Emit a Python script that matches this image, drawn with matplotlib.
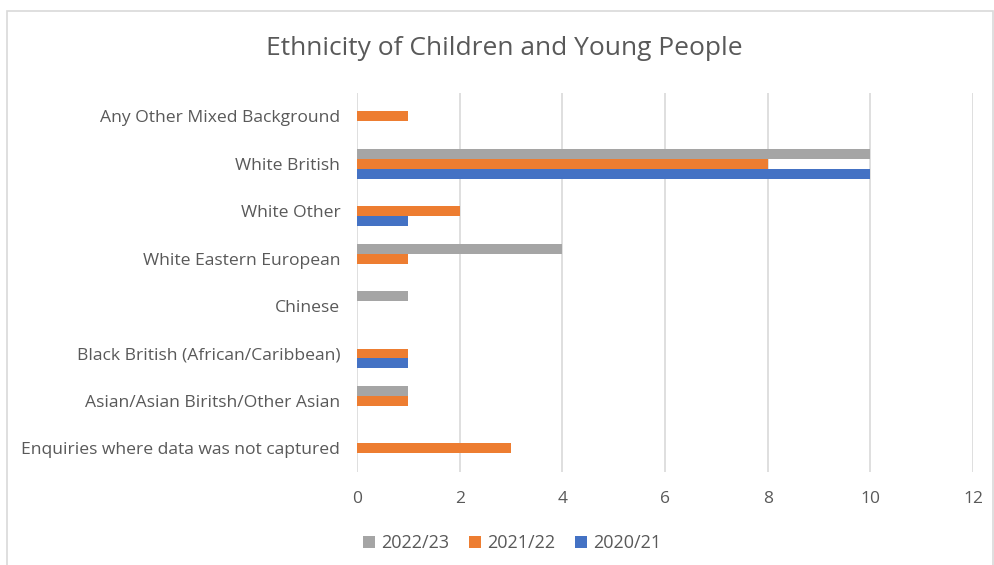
import matplotlib.pyplot as plt
import numpy as np
from matplotlib.patches import Rectangle

plt.rcParams["font.family"] = ["Open Sans", "DejaVu Sans"]

# Data (top to bottom as shown)
categories = [
    "Any Other Mixed Background",
    "White British",
    "White Other",
    "White Eastern European",
    "Chinese",
    "Black British (African/Caribbean)",
    "Asian/Asian Biritsh/Other Asian",
    "Enquiries where data was not captured",
]
y2022 = [0, 10, 0, 4, 1, 0, 1, 0]
y2021 = [1, 8, 2, 1, 0, 1, 1, 3]
y2020 = [0, 10, 1, 0, 0, 1, 0, 0]

series = [
    ("2022/23", y2022, "#A5A5A5"),
    ("2021/22", y2021, "#ED7D31"),
    ("2020/21", y2020, "#4472C4"),
]

text_color = "#595959"
grid_color = "#D9D9D9"

fig = plt.figure(figsize=(9.95, 5.65), dpi=100)
ax = fig.add_axes([0.3588, 0.1646, 0.6191, 0.6712])

pos = np.arange(len(categories))
h = 0.21
for i, (name, vals, col) in enumerate(series):
    ax.barh(pos + (i - 1) * h, vals, height=h, color=col, label=name, zorder=3)

ax.set_ylim(len(categories) - 0.5, -0.5)
ax.set_xlim(0, 12)
ax.set_xticks(range(0, 13, 2))
ax.set_yticks(pos)
ax.set_yticklabels(categories)

ax.grid(axis="x", color=grid_color, linewidth=1.2, zorder=0)
for s in ax.spines.values():
    s.set_visible(False)
ax.tick_params(axis="both", length=0, colors=text_color)
ax.tick_params(axis="x", pad=14, labelsize=12.5)
ax.tick_params(axis="y", pad=12, labelsize=12.6)

fig.text(0.5065, 0.914, "Ethnicity of Children and Young People",
         ha="center", va="center", fontsize=19, color=text_color)

handles, labels = ax.get_legend_handles_labels()
fig.legend(handles, labels, loc="center", bbox_to_anchor=(0.515, 0.039),
           ncol=3, frameon=False, fontsize=13, labelcolor=text_color,
           handlelength=0.65, handleheight=0.65, handletextpad=0.35,
           columnspacing=1.1)

# chart border
fig.patches.append(Rectangle((7 / 995, -0.01), 986 / 995, 1 - 11 / 565 + 0.01,
                             transform=fig.transFigure, fill=False,
                             edgecolor="#D9D9D9", linewidth=1.2))

plt.savefig("out.png", dpi=100)
plt.close()
